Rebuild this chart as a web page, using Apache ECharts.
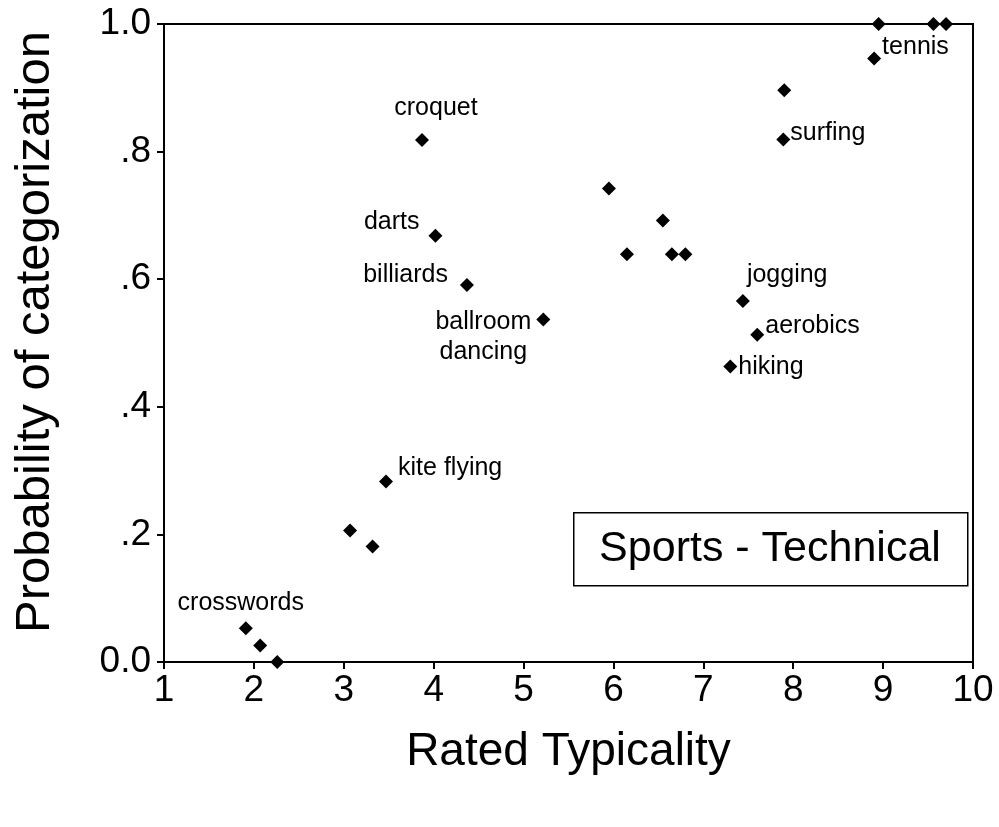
<!DOCTYPE html>
<html>
<head>
<meta charset="utf-8">
<script src="https://cdn.jsdelivr.net/npm/echarts@6/dist/echarts.min.js"></script>
<style>
html,body{margin:0;padding:0;background:#fff;}
#chart{width:999px;height:827px;}
</style>
</head>
<body>
<div id="chart"></div>
<script>
// ---- data ----
const typicality = [1.91, 2.07, 2.26, 3.47, 3.07, 3.32, 3.87, 4.02, 4.37, 5.22, 5.95, 6.55, 6.15, 6.65, 6.80, 7.44, 7.60, 7.30, 8.90, 8.95, 9.56, 9.70, 7.90, 7.89];
const probability = [0.053, 0.026, 0.0, 0.283, 0.206, 0.181, 0.818, 0.668, 0.591, 0.537, 0.742, 0.692, 0.639, 0.639, 0.639, 0.566, 0.513, 0.463, 0.946, 1.0, 1.0, 1.0, 0.896, 0.819];
const pointLabels = ['crosswords', '', '', 'kite flying', '', '', 'croquet', 'darts', 'billiards', 'ballroom\ndancing', '', '', '', '', '', 'jogging', 'aerobics', 'hiking', 'tennis', '', '', '', '', 'surfing'];
const xTicks = ['1','2','3','4','5','6','7','8','9','10'];
const yTickLabels = {0: '0.0', 0.2: '.2', 0.4: '.4', 0.6: '.6', 0.8: '.8', 1: '1.0'};
const panelTitle = 'Sports - Technical';

// ---- label placement (style only) ----
const labelStyle = {
  'crosswords':        {align: 'center', offset: [-5, -25]},
  'kite flying':       {align: 'left',   offset: [12, -13]},
  'croquet':           {align: 'center', offset: [14, -32]},
  'darts':             {align: 'right',  offset: [-16, -14]},
  'billiards':         {align: 'right',  offset: [-19, -10]},
  'ballroom\ndancing': {align: 'center', offset: [-60, 18]},
  'jogging':           {align: 'left',   offset: [4, -26]},
  'aerobics':          {align: 'left',   offset: [8, -9]},
  'hiking':            {align: 'left',   offset: [8, 1]},
  'tennis':            {align: 'left',   offset: [8, -11]},
  'surfing':           {align: 'left',   offset: [7, -6]}
};

const FONT = 'Liberation Sans, Arial, Helvetica, sans-serif';

const seriesData = typicality.map((x, i) => {
  const name = pointLabels[i];
  const item = {value: [x, probability[i]], name: name};
  if (name) {
    const st = labelStyle[name];
    item.label = {
      show: true,
      position: 'inside',
      formatter: name,
      align: st.align,
      verticalAlign: 'middle',
      offset: st.offset,
      color: '#000',
      opacity: 1,
      fontFamily: FONT,
      fontSize: 25,
      lineHeight: 30
    };
  }
  return item;
});

const chart = echarts.init(document.getElementById('chart'), null, {renderer: 'canvas'});
chart.setOption({
  animation: false,
  backgroundColor: '#fff',
  grid: {left: 164, right: 26, top: 24, bottom: 165, show: true, borderColor: '#000', borderWidth: 2, containLabel: false},
  xAxis: {
    type: 'value', min: 1, max: 10, interval: 1,
    name: 'Rated Typicality', nameLocation: 'middle', nameGap: 67,
    nameTextStyle: {fontFamily: FONT, fontSize: 46, color: '#000'},
    axisLine: {show: true, onZero: false, lineStyle: {color: '#000', width: 2}},
    axisTick: {show: true, inside: false, length: 7, lineStyle: {color: '#000', width: 2}},
    axisLabel: {fontFamily: FONT, fontSize: 37, color: '#000', margin: 10,
      formatter: v => xTicks[Math.round(v) - 1] || ''},
    splitLine: {show: false}
  },
  yAxis: {
    type: 'value', min: 0, max: 1, interval: 0.2,
    name: 'Probability of categorization', nameLocation: 'middle', nameGap: 104,
    nameTextStyle: {fontFamily: FONT, fontSize: 49, color: '#000', padding: [0, 0, 0, 22]},
    axisLine: {show: true, onZero: false, lineStyle: {color: '#000', width: 2}},
    axisTick: {show: true, inside: false, length: 7, lineStyle: {color: '#000', width: 2}},
    axisLabel: {fontFamily: FONT, fontSize: 37, color: '#000', margin: 13,
      formatter: v => yTickLabels[Math.round(v * 10) / 10] || ''},
    splitLine: {show: false}
  },
  graphic: [
    {type: 'rect', left: 573, top: 512, shape: {width: 394, height: 73},
     style: {fill: '#fff', stroke: '#000', lineWidth: 1.5}, z: 10},
    {type: 'text', x: 770, y: 549, style: {text: panelTitle, font: '43px ' + FONT, fill: '#000', align: 'center', verticalAlign: 'middle'}, z: 11}
  ],
  series: [{
    type: 'scatter',
    symbol: 'diamond',
    symbolSize: 14,
    clip: false,
    itemStyle: {color: '#000', opacity: 1},
    data: seriesData,
    label: {show: false}
  }]
});
</script>
</body>
</html>
